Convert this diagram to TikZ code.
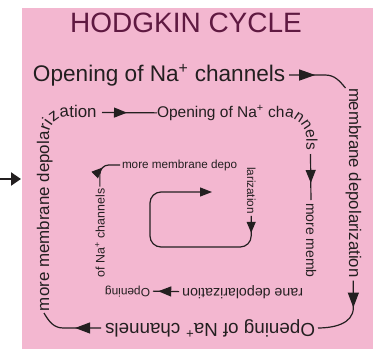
\documentclass[tikz,border=0pt]{standalone}
\usepackage{fontspec}
\setmainfont{Liberation Sans}
\usetikzlibrary{arrows.meta,decorations.markings,decorations.text,calc}

\definecolor{bgpink}{RGB}{243,183,208}
\definecolor{ink}{RGB}{35,31,32}
\definecolor{titlered}{RGB}{95,25,65}

% font size in points, leading equal to size
\newcommand{\setfs}[1]{\fontsize{#1}{#1}\selectfont}

\tikzset{
  lbl/.style={inner sep=0pt, outer sep=0pt, text=ink},
  conn/.style={draw=ink, line width=1.2pt},
  % filled triangle placed part-way along a connector: position, length, width
  midtri/.style n args={3}{postaction={decorate, decoration={markings,
      mark=at position #1 with {\arrow[ink]{Triangle[length=#2,width=#3]}}}}},
}

\begin{document}
\begin{tikzpicture}[x=1pt,y=1pt]
\useasboundingbox (0,0) rectangle (373,-349);
\fill[bgpink] (22,-8) rectangle (373,-349);

% entry arrow from the left
\coordinate (in0) at (0,-179);
\coordinate (in1) at (21,-179);
\draw[ink, line width=2.2pt, -{Triangle[length=10pt,width=13pt]}] (in0) -- (in1);

% title
\node[inner sep=0pt, text=titlered, font=\setfs{28}, anchor=base] (title) at (186,-32) {HODGKIN CYCLE};

% ---- outer turn ----
\node[lbl, anchor=base west, font=\setfs{22.6}] (t1) at (33,-81) {Opening of Na\textsuperscript{+} channels};
\node[lbl, rotate=-90, anchor=base west, font=\setfs{16.8}] (r1) at (349,-88) {membrane depolarization};
\node[lbl, rotate=180, anchor=base west, font=\setfs{18.8}] (b1) at (315,-323) {Opening of Na\textsuperscript{+} channels};

% left side text running round the corner
\coordinate (l1a) at (49,-311);
\path[decorate, decoration={text along path, text align={left},
    text={|\setfs{16.9}\color{ink}|more membrane depolarization}}]
  (l1a) -- (49,-135) arc[start angle=180, end angle=90, radius=18] -- (140,-117);
\coordinate (l1b) at (102,-112.5);

\draw[conn, shorten <=4pt, midtri={30pt}{16pt}{11pt}]
  (t1.east) -- ++(40,0) to[out=0,in=130] (r1.south west);
\draw[conn, shorten <=3pt, shorten >=3pt, midtri={30pt}{15pt}{11pt}]
  (r1.east) -- ++(0,-30) to[out=-90,in=0] (b1.west);
\draw[conn, shorten <=4pt, midtri={30pt}{15pt}{11pt}]
  (b1.east) -- ++(-42,0) to[out=180,in=-60] ($(l1a)+(-5,-2)$);

% ---- second turn ----
\node[lbl, anchor=base west, font=\setfs{15.5}] (t2) at (157,-117) {Opening of Na\textsuperscript{+} ch};
\path[decorate, decoration={text along path, text align={left},
    text={|\setfs{15.5}\color{ink}|annels}}]
  (t2.base east) arc[start angle=90, end angle=0, radius=22] -- ++(0,-40);
\coordinate (t2end) at (310.5,-154);
\node[lbl, rotate=-90, anchor=base west, font=\setfs{14}] (r2) at (306,-203) {more memb};
\node[lbl, rotate=180, anchor=base west, font=\setfs{14.2}] (b2) at (303,-288) {rane depolarization};
\node[lbl, rotate=180, anchor=base west, font=\setfs{11.9}] (b3) at (150,-288) {Opening};

\draw[conn, midtri={25pt}{13pt}{10pt}] (l1b) -- (t2.west);
\draw[conn, shorten >=3pt, midtri={29pt}{13pt}{10pt}] (t2end) -- (r2.west);
\draw[conn, shorten <=3pt, shorten >=3pt, midtri={24pt}{13pt}{10pt}] (b2.east) -- (b3.west);

% ---- inner turn ----
\node[lbl, rotate=90, anchor=base west, font=\setfs{12.4}] (l3) at (104.5,-277) {of Na\textsuperscript{+} channels};
\node[lbl, anchor=base west, font=\setfs{11.7}] (i3) at (122,-168) {more membrane depo};
\node[lbl, rotate=-90, anchor=base west, font=\setfs{11.7}] (i4) at (247,-167) {larization};

\draw[conn, rounded corners=9pt, shorten <=2pt, shorten >=2pt, midtri={22pt}{11pt}{9pt}]
  (l3.east) |- (i3.west);

% closing loop in the centre
\coordinate (c1) at (150,-247);
\coordinate (c2) at (212,-192);
\draw[conn, rounded corners=11pt, shorten <=2pt, midtri={19pt}{11pt}{9pt},
      -{Triangle[length=12pt,width=9pt]}]
  (i4.east) |- (c1) |- (c2);
\end{tikzpicture}
\end{document}
